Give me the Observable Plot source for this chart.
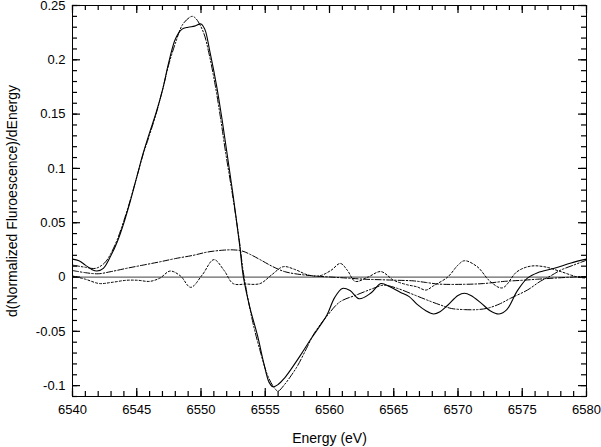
<!DOCTYPE html>
<html><head><meta charset="utf-8">
<script src="https://cdn.jsdelivr.net/npm/d3@7"></script>
<script src="https://cdn.jsdelivr.net/npm/@observablehq/plot@0.6"></script>
<style>html,body{margin:0;padding:0;background:#fff;overflow:hidden;} #chart svg{max-width:none;}</style>
</head><body><div id="chart"></div>
<script>
// Series A: solid
const solidE = [6540,6540.5,6541,6541.5,6541.9,6542.4,6543,6543.5,6544,6544.5,6545,6545.5,6546,6546.5,6547,6547.5,6548,6548.5,6549,6549.5,6550,6550.3,6550.7,6551.2,6551.6,6552,6552.5,6553,6553.3,6553.8,6554.4,6554.9,6555.3,6555.6,6556,6556.5,6557,6557.8,6558.5,6559.2,6559.8,6560.4,6561,6561.6,6562.3,6563.2,6564,6564.7,6565.5,6566.2,6566.8,6567.5,6568.1,6568.6,6569.2,6570,6570.5,6571,6571.8,6572.5,6573.2,6573.8,6574.6,6575.4,6576.2,6577.5,6578.8,6580];
const solidV = [0.0165,0.015,0.011,0.007,0.0055,0.008,0.02,0.033,0.05,0.07,0.092,0.114,0.133,0.151,0.172,0.198,0.219,0.228,0.230,0.231,0.233,0.228,0.207,0.177,0.148,0.116,0.075,0.03,0.0,-0.028,-0.054,-0.08,-0.097,-0.101,-0.099,-0.093,-0.085,-0.071,-0.058,-0.046,-0.035,-0.019,-0.0105,-0.0125,-0.02,-0.015,-0.006,-0.009,-0.014,-0.018,-0.025,-0.031,-0.034,-0.032,-0.026,-0.017,-0.015,-0.017,-0.024,-0.031,-0.034,-0.030,-0.013,-0.001,0.004,0.008,0.013,0.0165];
// Series B: dash-dot-dot (large)
const bigE = [6540,6541,6541.8,6542.5,6543,6543.5,6544,6544.5,6545,6545.5,6546,6546.5,6547,6547.5,6548,6548.6,6549.3,6549.6,6550.2,6550.6,6551.1,6551.5,6551.9,6552.5,6553,6553.3,6554,6554.6,6555.2,6555.7,6556,6556.5,6557,6557.5,6558.2,6558.8,6559.8,6560.8,6562.1,6563.4,6564.2,6565.3,6566.6,6567.9,6568.6,6569.5,6570.5,6571.5,6572.3,6573.2,6574.1,6575.4,6576.4,6577.2,6578,6579,6580];
const bigV = [0.011,0.009,0.008,0.013,0.022,0.035,0.052,0.071,0.092,0.113,0.131,0.150,0.172,0.196,0.215,0.233,0.240,0.238,0.225,0.207,0.177,0.148,0.116,0.072,0.032,0.004,-0.04,-0.068,-0.091,-0.102,-0.105,-0.099,-0.091,-0.082,-0.066,-0.052,-0.036,-0.023,-0.0165,-0.0105,-0.0075,-0.0105,-0.0165,-0.0226,-0.0256,-0.029,-0.030,-0.030,-0.0287,-0.025,-0.0195,-0.012,-0.004,0.001,0.0064,0.011,0.0155];
// Series C: dash-dot (small, broad)
const broadE = [6540,6541,6542,6543,6544.2,6545.5,6546.8,6548,6549.4,6550.5,6551.7,6552.5,6553.2,6553.8,6554.6,6555.6,6556.5,6557.5,6558.8,6560.1,6561.4,6562.7,6564,6565.3,6566.5,6567.5,6568.5,6570.5,6572,6573.6,6575,6576.2,6577.5,6579,6580];
const broadV = [0.006,0.004,0.003,0.005,0.008,0.011,0.014,0.017,0.020,0.023,0.0247,0.025,0.024,0.021,0.016,0.0095,0.005,0.0027,0.001,0.0,-0.001,-0.002,-0.0025,-0.003,-0.0035,-0.005,-0.0065,-0.0067,-0.006,-0.004,-0.003,-0.002,-0.001,0.0,0.0005];
// Series D: dotted (small, oscillating)
const dotE = [6540,6541,6542.1,6543,6544.2,6545.1,6546,6546.8,6547.6,6548.4,6549.2,6550.1,6551,6551.8,6552.5,6553.5,6554.6,6555.5,6556.4,6557.3,6558.3,6559.2,6560.1,6560.85,6561.4,6562,6563,6564,6565,6566,6566.8,6567.5,6568.1,6569.2,6570,6570.5,6571.5,6572.5,6573.45,6574.6,6575.65,6576.7,6578,6579.3,6580];
const dotV = [0.001,-0.002,-0.006,-0.005,-0.003,-0.003,-0.004,-0.001,0.0055,0.001,-0.0095,0.002,0.016,0.006,-0.006,-0.0065,-0.006,0.002,0.0095,0.007,0.002,0.001,0.006,0.0125,0.006,-0.004,0.0,0.005,-0.003,-0.007,-0.009,-0.012,-0.008,0.0,0.011,0.015,0.0095,-0.004,-0.010,0.005,0.010,0.0095,0.005,0.0,-0.001];

const xTicksMajor = [6540,6545,6550,6555,6560,6565,6570,6575,6580];
const yTicksMajor = [-0.1,-0.05,0,0.05,0.1,0.15,0.2,0.25];
const xTicksMinor = d3.range(6540, 6581, 1);
const yTicksMinor = d3.range(-11, 26).map(i => i / 100);
const xTitle = "Energy (eV)";
const yTitle = "d(Normalized Fluroescence)/dEnergy";

const toRows = (E, V) => E.map((e, i) => ({e, v: V[i]}));
const solid = toRows(solidE, solidV);
const big = toRows(bigE, bigV);
const broad = toRows(broadE, broadV);
const dots = toRows(dotE, dotV);

const W = 601, H = 447, mL = 72, mR = 15, mT = 5, mB = 51;
const xDom = [6540, 6580], yDom = [-0.11, 0.25];
const xPerPx = (xDom[1] - xDom[0]) / (W - mL - mR);
const yPerPx = (yDom[1] - yDom[0]) / (H - mT - mB);

const fmtY = d => String(+d.toFixed(2));
const tickStyle = {stroke: "#000", strokeWidth: 1.2, strokeOpacity: 1};
// inward tick marks as short rules from each frame edge
const xTickRules = (vals, len) => [
  Plot.ruleX(vals, {x: d => d, y1: yDom[0], y2: yDom[0] + len * yPerPx, ...tickStyle}),
  Plot.ruleX(vals, {x: d => d, y1: yDom[1], y2: yDom[1] - len * yPerPx, ...tickStyle})
];
const yTickRules = (vals, len) => [
  Plot.ruleY(vals, {y: d => d, x1: xDom[0], x2: xDom[0] + len * xPerPx, ...tickStyle}),
  Plot.ruleY(vals, {y: d => d, x1: xDom[1], x2: xDom[1] - len * xPerPx, ...tickStyle})
];

const chart = Plot.plot({
  width: W,
  height: H,
  marginLeft: mL,
  marginRight: mR,
  marginTop: mT,
  marginBottom: mB,
  style: {fontFamily: "'Liberation Sans', Arial, sans-serif", fontSize: "13px", background: "#fff", color: "#000"},
  x: {domain: xDom},
  y: {domain: yDom},
  marks: [
    Plot.ruleY([0], {stroke: "#666", strokeWidth: 1.2}),
    Plot.line(broad, {x: "e", y: "v", curve: "catmull-rom", stroke: "#000", strokeWidth: 1, strokeDasharray: "6,2,1.5,2"}),
    Plot.line(dots, {x: "e", y: "v", curve: "catmull-rom", stroke: "#000", strokeWidth: 1, strokeDasharray: "2,2"}),
    Plot.line(big, {x: "e", y: "v", curve: "catmull-rom", stroke: "#000", strokeWidth: 1, strokeDasharray: "7,2,1.5,2,1.5,2"}),
    Plot.line(solid, {x: "e", y: "v", curve: "catmull-rom", stroke: "#000", strokeWidth: 1.1}),
    Plot.frame({stroke: "#000"}),
    ...xTickRules(xTicksMinor, 5),
    ...xTickRules(xTicksMajor, 8),
    ...yTickRules(yTicksMinor, 5),
    ...yTickRules(yTicksMajor, 8),
    // tick labels
    Plot.axisX(xTicksMajor, {anchor: "bottom", tickSize: 0, tickPadding: 8, tickFormat: d => String(d), fontSize: 13, label: null}),
    Plot.axisY(yTicksMajor, {anchor: "left", tickSize: 0, tickPadding: 7, tickFormat: fmtY, fontSize: 13, label: null}),
    // axis titles
    Plot.text([xTitle], {frameAnchor: "bottom", textAnchor: "middle", lineAnchor: "bottom", dy: 46, fontSize: 14, fill: "#000"}),
    Plot.text([yTitle], {frameAnchor: "left", textAnchor: "middle", lineAnchor: "middle", dx: -60, rotate: -90, fontSize: 14, fill: "#000"})
  ]
});
document.getElementById("chart").appendChild(chart);
</script>
</body></html>
